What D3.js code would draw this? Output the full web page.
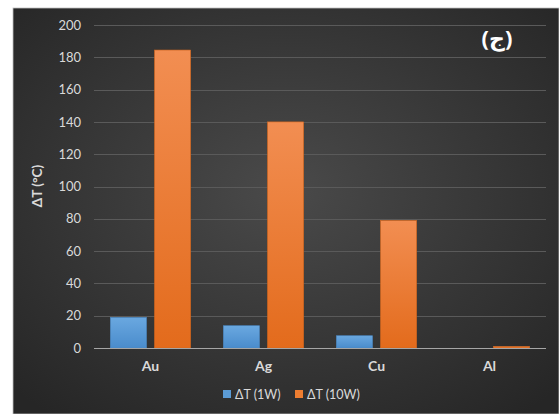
<!DOCTYPE html>
<html><head><meta charset="utf-8">
<script src="https://cdn.jsdelivr.net/npm/d3@7"></script>
<style>body{margin:0;background:#fff;}svg{display:block;}</style>
</head><body>
<script>
const categories = ["Au", "Ag", "Cu", "Al"];
const seriesNames = ["ΔT (1W)", "ΔT (10W)"];
const values1W = [19, 13.8, 7.6, 0];
const values10W = [184.5, 140, 79, 1];
const yTicks = [0, 20, 40, 60, 80, 100, 120, 140, 160, 180, 200];
const colors = ["#5b9bd5", "#ed7d31"];
const FONT = "Lato, 'Open Sans', sans-serif";

const W = 559, H = 414;
const svg = d3.select("body").append("svg").attr("width", W).attr("height", H);
const defs = svg.append("defs");
const rg = defs.append("radialGradient").attr("id", "bg").attr("cx", "50%").attr("cy", "45%").attr("r", "70%");
rg.append("stop").attr("offset", "0%").attr("stop-color", "#4a4a4a");
rg.append("stop").attr("offset", "100%").attr("stop-color", "#262626");
const gb = defs.append("linearGradient").attr("id", "gblue").attr("x1", 0).attr("y1", 0).attr("x2", 0).attr("y2", 1);
gb.append("stop").attr("offset", "0%").attr("stop-color", "#6aa8e0");
gb.append("stop").attr("offset", "100%").attr("stop-color", "#4a8ccc");
const go = defs.append("linearGradient").attr("id", "gorange").attr("x1", 0).attr("y1", 0).attr("x2", 0).attr("y2", 1);
go.append("stop").attr("offset", "0%").attr("stop-color", "#f28e52");
go.append("stop").attr("offset", "100%").attr("stop-color", "#e36b1c");

svg.append("rect").attr("x", 13).attr("y", 8).attr("width", W - 13).attr("height", H - 8).attr("fill", "url(#bg)")
  .attr("stroke", "#bfbfbf").attr("stroke-width", 0.8);

const x0 = d3.scaleBand().domain(categories).range([94, 546]);
const x1 = d3.scaleBand().domain([0, 1]).range([0, x0.bandwidth()]).paddingInner(0.18).paddingOuter(0.37);
const y = d3.scaleLinear().domain([0, 200]).range([348, 25]);

svg.append("g").selectAll("line").data(yTicks.filter(d => d > 0)).enter().append("line")
  .attr("x1", 94).attr("x2", 546).attr("y1", d => Math.round(y(d)) + 0.5).attr("y2", d => Math.round(y(d)) + 0.5)
  .attr("stroke", "#5a5a5a").attr("stroke-width", 1);

const yAxis = d3.axisLeft(y).tickValues(yTicks).tickSize(0).tickPadding(0);
const ya = svg.append("g").attr("transform", "translate(81,0)").call(yAxis);
ya.select(".domain").remove();
ya.attr("font-family", FONT);
ya.selectAll("text").attr("fill", "#d9d9d9").attr("font-size", 13).attr("font-family", FONT);

const data = categories.map((c, i) => ({c, v: [values1W[i], values10W[i]]}));
const grp = svg.selectAll(".cat").data(data).enter().append("g").attr("transform", d => `translate(${x0(d.c)},0)`);
grp.selectAll("rect").data(d => d.v.map((v, k) => ({v, k}))).enter().append("rect")
  .attr("x", d => x1(d.k)).attr("width", x1.bandwidth())
  .attr("y", d => y(d.v)).attr("height", d => y(0) - y(d.v))
  .attr("fill", d => d.k === 0 ? "url(#gblue)" : "url(#gorange)")
  .attr("stroke", d => d.v > 0 ? (d.k === 0 ? "#4a86c0" : "#d0641c") : "none").attr("stroke-width", 0.6);

svg.append("line").attr("x1", 94).attr("x2", 546).attr("y1", y(0) + 0.5).attr("y2", y(0) + 0.5)
  .attr("stroke", "#a6a6a6").attr("stroke-width", 1.2);

const xAxis = d3.axisBottom(x0).tickSize(0).tickPadding(0);
const xa = svg.append("g").attr("transform", `translate(0,${y(0) + 13})`).call(xAxis);
xa.select(".domain").remove();
xa.attr("font-family", FONT);
xa.selectAll("text").attr("fill", "#d9d9d9").attr("font-size", 14).attr("font-weight", "bold").attr("font-family", FONT);

svg.append("text").attr("transform", "translate(42,186) rotate(-90)").attr("text-anchor", "middle")
  .attr("fill", "#d9d9d9").attr("font-size", 13.5).attr("font-weight", "bold").attr("font-family", FONT).text("ΔT (°C)");

const legX = [223, 295];
const lg = svg.selectAll(".leg").data(seriesNames).enter().append("g").attr("transform", (d, i) => `translate(${legX[i]},390)`);
lg.append("rect").attr("width", 8).attr("height", 8).attr("fill", (d, i) => colors[i]);
lg.append("text").attr("x", 12).attr("y", 8.5).attr("fill", "#d9d9d9").attr("font-size", 12.5).attr("font-family", FONT).text(d => d);

svg.append("text").attr("x", 497).attr("y", 46).attr("text-anchor", "middle").attr("fill", "#ffffff")
  .attr("font-size", 22).attr("font-weight", "bold").attr("font-family", "'Noto Sans','DejaVu Sans',sans-serif")
  .attr("direction", "ltr").style("unicode-bidi", "bidi-override").text("(ج)");
</script>
</body></html>
